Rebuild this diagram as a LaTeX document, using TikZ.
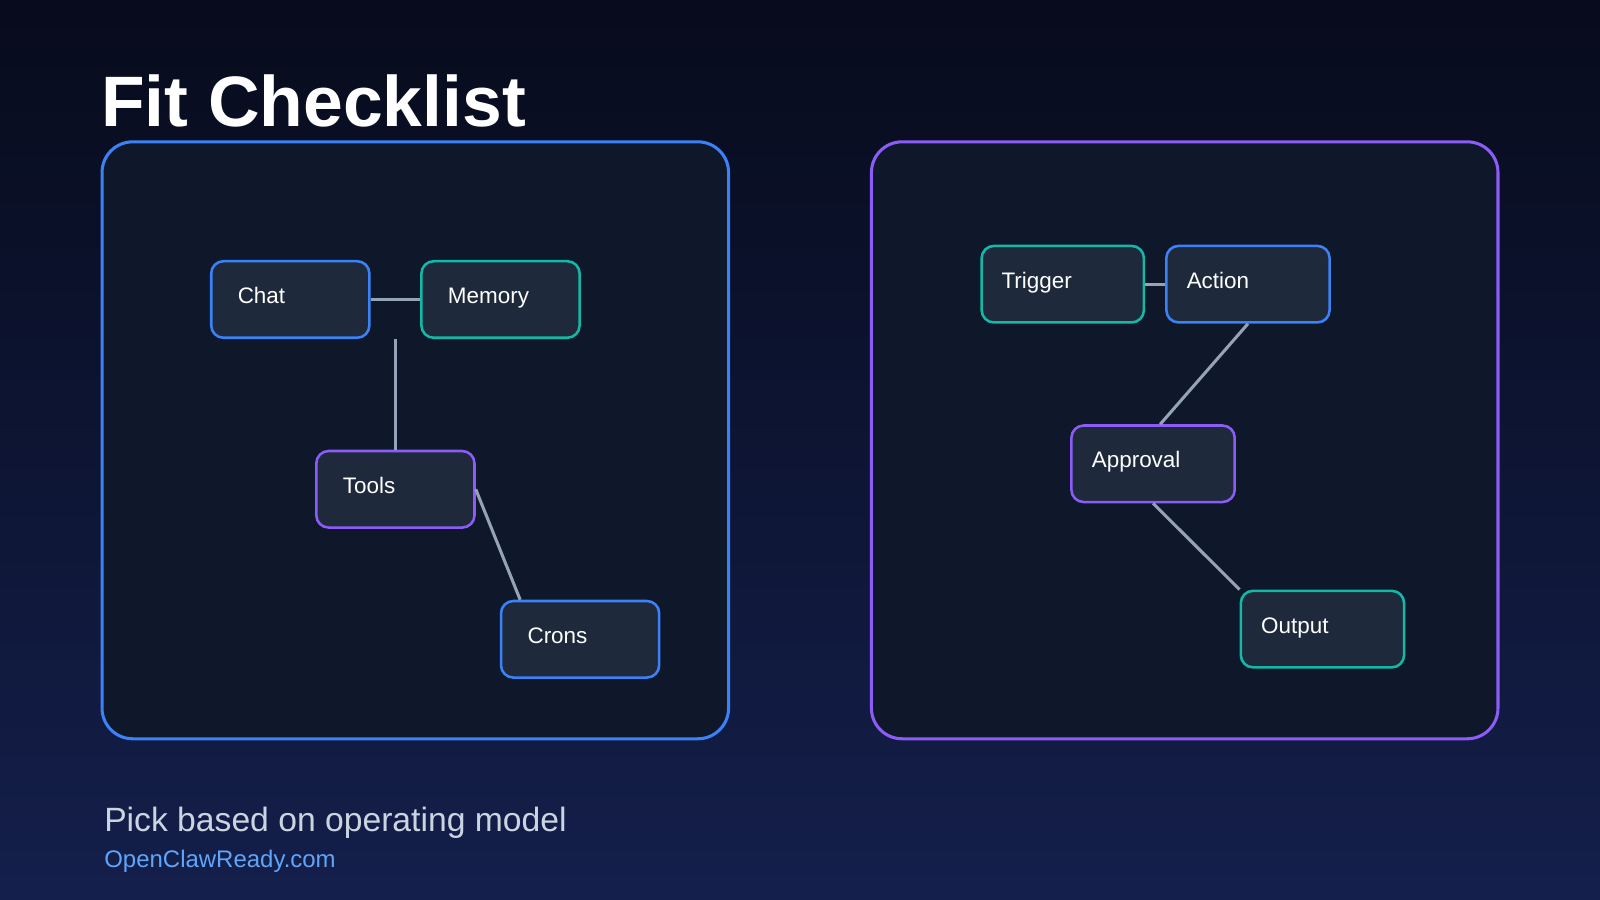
\documentclass[tikz,border=0pt]{standalone}
\usepackage{fontspec}
\setmainfont{Liberation Sans}
\usetikzlibrary{calc}
\definecolor{bgtop}{HTML}{070B1C}
\definecolor{bgbot}{HTML}{141F4B}
\definecolor{panel}{HTML}{0F172A}
\definecolor{nodef}{HTML}{1E293B}
\definecolor{cblue}{HTML}{3B82F6}
\definecolor{cpurp}{HTML}{8B5CF6}
\definecolor{cteal}{HTML}{14B8A6}
\definecolor{edge}{HTML}{94A3B8}
\definecolor{sub}{HTML}{CBD5E1}
\definecolor{url}{HTML}{60A5FA}
\begin{document}
\begin{tikzpicture}[x=1pt,y=-1pt,
  pnl/.style={draw=#1,line width=3pt,fill=panel,rounded corners=30pt},
  box/.style={draw=#1,line width=2.5pt,fill=nodef,rounded corners=12pt,minimum width=155pt,minimum height=75pt,text width=103pt,text height=16pt,text depth=8pt,align=left,inner sep=0pt,text=white,font=\fontsize{22}{26}\selectfont},
  rbox/.style={box=#1,minimum width=160pt,text width=120pt},
  con/.style={draw=edge,line width=3pt}]
\shade[top color=bgtop,bottom color=bgbot] (0,0) rectangle (1568,882);
\useasboundingbox (0,0) rectangle (1568,882);
\node[anchor=base west,inner sep=0pt,text=white,font=\fontsize{70}{76}\selectfont\bfseries] (title) at (99,124) {Fit Checklist};
\draw[pnl=cblue] (100,139) rectangle (714,724);
\draw[pnl=cpurp] (854,139) rectangle (1468,724);
\node[box=cblue] (chat) at (284.5,293.5) {Chat};
\node[box=cteal] (memory) at (490.5,293.5) {Memory};
\node[box=cpurp] (tools) at (387.5,479.5) {Tools};
\node[box=cblue] (crons) at (568.5,626.5) {Crons};
\node[rbox=cteal,minimum width=159pt] (trigger) at (1041.5,278.5) {Trigger};
\node[rbox=cblue] (action) at (1223,278.5) {Action};
\node[rbox=cpurp] (approval) at (1130,454.5) {Approval};
\node[rbox=cteal] (output) at (1296,616.5) {Output};
\draw[con] (chat.east) -- (memory.west);
\draw[con] (tools.north) -- (tools.north |- chat.south);
\draw[con] (tools.east) -- ($(crons.north west)+(20,0)$);
\draw[con] (trigger.east) -- (action.west);
\draw[con] (action.south) -- ($(approval.north)+(7,0)$);
\draw[con] (approval.south) -- (output.north west);
\node[anchor=base west,inner sep=0pt,text=sub,font=\fontsize{33}{38}\selectfont] (subt) at (102,815) {Pick based on operating model};
\node[anchor=base west,inner sep=0pt,text=url,font=\fontsize{23.5}{28}\selectfont] (link) at (102,850) {OpenClawReady.com};
\end{tikzpicture}
\end{document}
